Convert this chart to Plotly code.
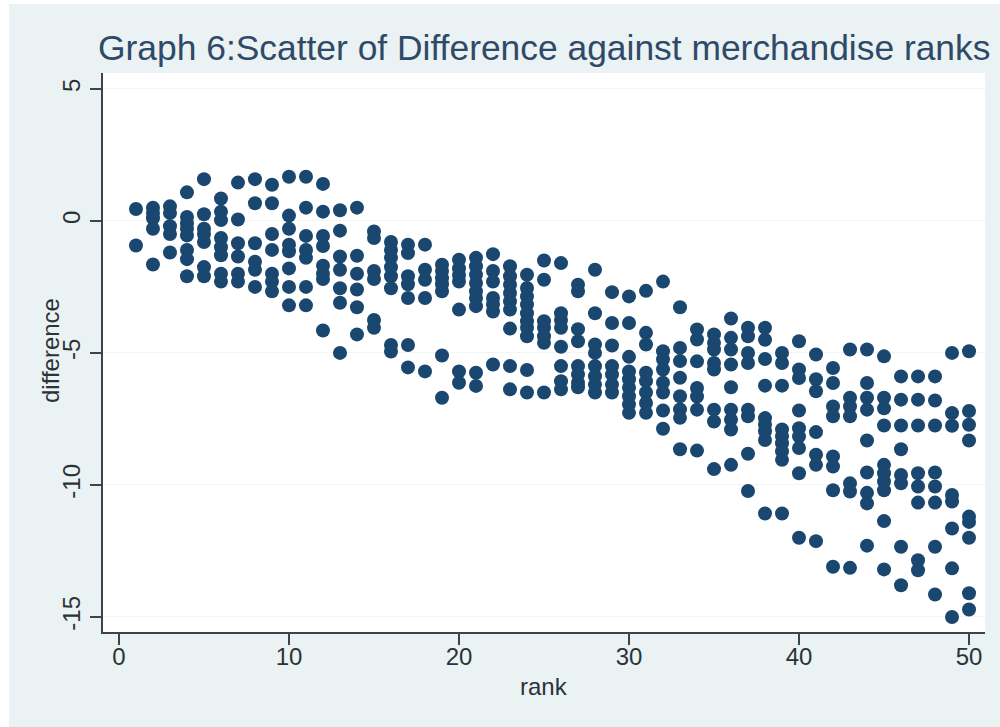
import plotly.graph_objects as go

title_text = "Graph 6:Scatter of Difference against merchandise ranks"
x_label = "rank"
y_label = "difference"
x_ticks = [0, 10, 20, 30, 40, 50]
y_ticks = [5, 0, -5, -10, -15]
y_tick_labels = ["5", "0", "-5", "-10", "-15"]

difference_by_rank = {
    1: [0.45, -0.93],
    2: [0.5, 0.3, 0.1, -0.3, -1.65],
    3: [0.55, 0.3, -0.2, -0.5, -1.2],
    4: [1.08, 0.15, -0.1, -0.3, -0.55, -1.1, -1.45, -2.1],
    5: [1.58, 0.25, -0.3, -0.5, -0.8, -1.75, -2.1],
    6: [0.85, 0.35, 0.03, -0.65, -1.0, -1.3, -2.0, -2.3],
    7: [1.45, 0.05, -0.85, -1.35, -2.0, -2.3],
    8: [1.58, 0.67, -0.85, -1.55, -1.85, -2.5],
    9: [1.37, 0.67, -0.5, -1.1, -2.0, -2.3, -2.67],
    10: [1.67, 0.2, -0.3, -0.9, -1.15, -1.8, -2.5, -3.2],
    11: [1.67, 0.5, -0.57, -1.1, -1.4, -2.5, -3.2],
    12: [1.4, 0.35, -0.57, -0.95, -1.7, -2.0, -2.2, -4.15],
    13: [0.4, -0.37, -1.35, -1.85, -2.55, -3.1, -5.0],
    14: [0.5, -1.32, -2.0, -2.6, -3.27, -4.3],
    15: [-0.4, -0.65, -1.9, -2.2, -3.75, -4.05],
    16: [-0.8, -1.1, -1.4, -1.75, -2.1, -2.55, -4.7, -4.95],
    17: [-0.9, -1.22, -2.1, -2.4, -2.92, -4.7, -5.55],
    18: [-0.9, -1.85, -2.23, -2.92, -5.7],
    19: [-1.66, -1.9, -2.17, -2.4, -2.67, -5.1, -6.7],
    20: [-1.47, -1.8, -2.05, -2.3, -3.36, -5.7, -6.13],
    21: [-1.4, -1.72, -2.04, -2.35, -2.67, -2.92, -3.23, -5.75, -6.25],
    22: [-1.26, -1.9, -2.3, -2.92, -3.17, -3.43, -5.44],
    23: [-1.72, -2.1, -2.42, -2.73, -3.05, -3.36, -4.08, -5.5, -6.38],
    24: [-2.04, -2.54, -2.86, -3.17, -3.5, -3.8, -4.05, -4.37, -5.65, -6.5],
    25: [-1.5, -2.23, -3.8, -4.05, -4.37, -4.62, -6.5],
    26: [-1.6, -3.5, -3.75, -4.05, -4.77, -5.5, -6.07, -6.38],
    27: [-2.42, -2.67, -4.1, -4.56, -5.5, -5.82, -6.13, -6.3],
    28: [-1.85, -3.5, -4.68, -5.0, -5.5, -5.88, -6.2, -6.5],
    29: [-2.7, -3.87, -4.72, -5.5, -5.82, -6.2, -6.5],
    30: [-2.86, -3.87, -5.15, -5.7, -6.0, -6.32, -6.64, -6.95, -7.27],
    31: [-2.65, -4.24, -4.68, -5.75, -6.07, -6.5, -6.9, -7.27],
    32: [-2.3, -4.94, -5.25, -5.63, -6.13, -6.5, -7.18, -7.87],
    33: [-3.27, -4.81, -5.31, -5.94, -6.64, -7.14, -7.46, -8.65],
    34: [-4.11, -4.49, -5.32, -6.33, -6.65, -7.15, -8.7],
    35: [-4.3, -4.62, -4.87, -5.38, -5.63, -7.15, -7.6, -9.4],
    36: [-3.7, -4.43, -4.87, -5.44, -6.3, -7.15, -7.53, -7.9, -9.24],
    37: [-4.05, -4.37, -5.0, -5.38, -7.15, -7.4, -8.82, -10.23],
    38: [-4.05, -4.5, -5.23, -6.24, -7.47, -7.72, -7.97, -8.3, -11.08],
    39: [-5.0, -5.38, -6.24, -7.9, -8.16, -8.42, -8.73, -9.05, -11.08],
    40: [-4.56, -5.63, -5.95, -7.18, -7.85, -8.16, -8.6, -9.56, -12.0],
    41: [-5.06, -6.0, -6.45, -8.0, -8.86, -9.24, -12.13],
    42: [-5.57, -6.14, -7.03, -7.4, -8.92, -9.3, -10.2, -13.1],
    43: [-4.87, -6.7, -7.03, -7.4, -9.94, -10.25, -13.14],
    44: [-4.87, -6.14, -6.7, -7.15, -8.32, -9.53, -10.3, -10.7, -12.3],
    45: [-5.13, -6.7, -7.1, -7.75, -9.24, -9.56, -9.87, -10.2, -11.37, -13.2],
    46: [-5.89, -6.77, -7.75, -8.65, -9.62, -9.94, -12.34, -13.8],
    47: [-5.89, -6.77, -7.75, -9.56, -10.06, -10.67, -12.85, -13.23],
    48: [-5.89, -6.8, -7.75, -9.53, -10.06, -10.67, -12.34, -14.15],
    49: [-5.0, -7.28, -7.76, -10.38, -10.63, -11.65, -13.16, -15.0],
    50: [-4.94, -7.2, -7.72, -8.32, -11.2, -11.4, -12.0, -14.1, -14.72],
}

ranks = [r for r, vals in difference_by_rank.items() for _ in vals]
differences = [v for vals in difference_by_rank.values() for v in vals]

NAVY = "#1a476f"
PANEL = "#eaf2f3"
AXIS = "#3c4448"
TEXT = "#2b3238"
FONT = "Liberation Sans, Arial, sans-serif"

fig = go.Figure(go.Scatter(
    x=ranks, y=differences, mode="markers",
    marker=dict(color=NAVY, size=14, line=dict(width=0)),
    cliponaxis=False, showlegend=False,
))

W, H = 1000, 727
L, R, T, B = 103, 15, 73, 95
pw, ph = W - L - R, H - T - B

fig.update_layout(
    width=W, height=H,
    margin=dict(l=L, r=R, t=T, b=B, autoexpand=False),
    paper_bgcolor=PANEL, plot_bgcolor="white",
    font=dict(family=FONT, color=TEXT),
    shapes=[
        dict(type="rect", xref="paper", yref="paper", layer="below",
             x0=-L / pw, x1=(9 - L) / pw, y0=-B / ph, y1=(H - B) / ph,
             fillcolor="white", line=dict(width=0)),
        dict(type="rect", xref="paper", yref="paper", layer="below",
             x0=-L / pw, x1=(W - L) / pw, y0=(H - B - 4) / ph, y1=(H - B) / ph,
             fillcolor="white", line=dict(width=0)),
    ],
    annotations=[
        dict(text=title_text, xref="paper", yref="paper",
             x=(544 - L) / pw, y=(H - B - 48) / ph,
             xanchor="center", yanchor="middle", showarrow=False,
             font=dict(size=35.4, color="#2f4a68", family=FONT)),
        dict(text=x_label, xref="paper", yref="paper",
             x=(544 - L) / pw, y=(H - B - 686) / ph,
             xanchor="center", yanchor="middle", showarrow=False,
             font=dict(size=24, color=TEXT, family=FONT)),
        dict(text=y_label, xref="paper", yref="paper", textangle=-90,
             x=(50 - L) / pw, y=(H - B - 351) / ph,
             xanchor="center", yanchor="middle", showarrow=False,
             font=dict(size=24, color=TEXT, family=FONT)),
    ],
    xaxis=dict(
        range=[-0.94, 50.94], tickvals=x_ticks, showgrid=False, zeroline=False,
        showline=True, linecolor=AXIS, linewidth=2, ticks="outside",
        ticklen=11, tickcolor=AXIS, tickwidth=1.5, tickfont=dict(size=24),
        ticklabelstandoff=-9,
    ),
    yaxis=dict(
        range=[-15.57, 5.6], tickvals=y_ticks, ticktext=y_tick_labels,
        gridcolor="#f0f5f6", gridwidth=1,
        zeroline=False, showline=True, linecolor=AXIS, linewidth=2,
        ticks="outside", ticklen=11, tickcolor=AXIS, tickwidth=1.5,
        tickangle=-90, tickfont=dict(size=24),
    ),
)

fig.write_html(
    "out.html",
    config={"displayModeBar": False},
    post_script="document.body.style.margin='0';document.documentElement.style.overflow='hidden';",
)
